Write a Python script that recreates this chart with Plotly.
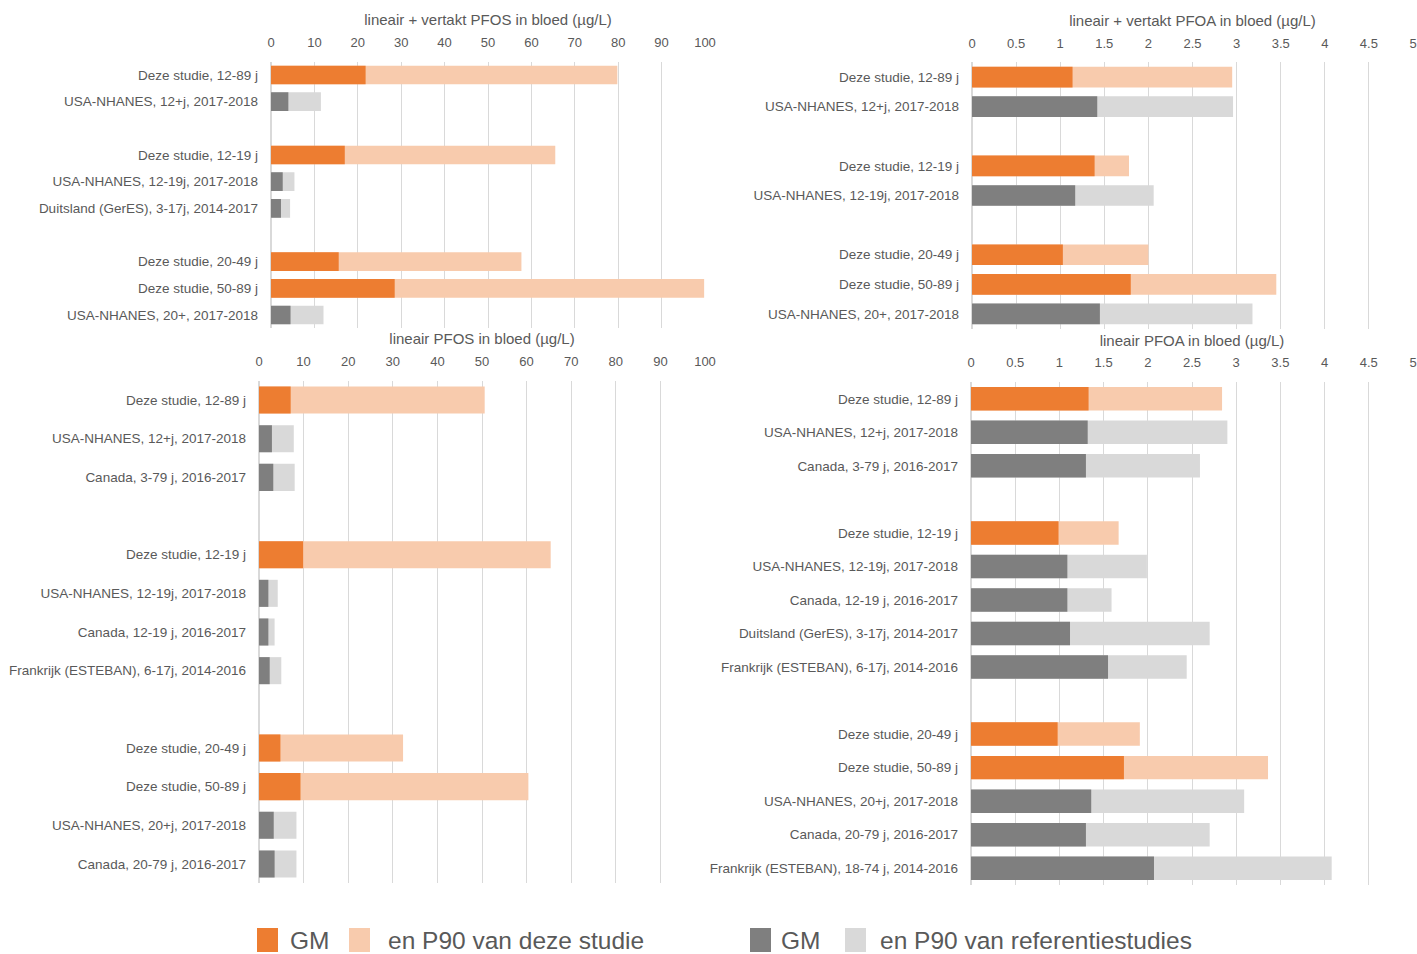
import plotly.graph_objects as go

# ---------------- data ----------------
# Panel 1: lineair + vertakt PFOS
labels_pfos_tot = ["Deze studie, 12-89 j", "USA-NHANES, 12+j, 2017-2018",
                   "Deze studie, 12-19 j", "USA-NHANES, 12-19j, 2017-2018",
                   "Duitsland (GerES), 3-17j, 2014-2017",
                   "Deze studie, 20-49 j", "Deze studie, 50-89 j", "USA-NHANES, 20+, 2017-2018"]
groups_pfos_tot = [2, 3, 3]
gm_pfos_tot = [21.8, 4.0, 17.0, 2.7, 2.3, 15.6, 28.5, 4.5]
p90_pfos_tot = [79.8, 11.5, 65.5, 5.4, 4.4, 57.7, 99.8, 12.1]

# Panel 2: lineair + vertakt PFOA
labels_pfoa_tot = ["Deze studie, 12-89 j", "USA-NHANES, 12+j, 2017-2018",
                   "Deze studie, 12-19 j", "USA-NHANES, 12-19j, 2017-2018",
                   "Deze studie, 20-49 j", "Deze studie, 50-89 j", "USA-NHANES, 20+, 2017-2018"]
groups_pfoa_tot = [2, 2, 3]
gm_pfoa_tot = [1.14, 1.42, 1.39, 1.17, 1.03, 1.80, 1.45]
p90_pfoa_tot = [2.95, 2.96, 1.78, 2.06, 2.00, 3.45, 3.18]

# Panel 3: lineair PFOS
labels_pfos_lin = ["Deze studie, 12-89 j", "USA-NHANES, 12+j, 2017-2018", "Canada, 3-79 j, 2016-2017",
                   "Deze studie, 12-19 j", "USA-NHANES, 12-19j, 2017-2018", "Canada, 12-19 j, 2016-2017",
                   "Frankrijk (ESTEBAN), 6-17j, 2014-2016",
                   "Deze studie, 20-49 j", "Deze studie, 50-89 j", "USA-NHANES, 20+j, 2017-2018",
                   "Canada, 20-79 j, 2016-2017"]
groups_pfos_lin = [3, 4, 4]
gm_pfos_lin = [7.1, 2.9, 3.2, 9.9, 2.1, 2.1, 2.4, 4.8, 9.3, 3.3, 3.5]
p90_pfos_lin = [50.6, 7.8, 8.0, 65.4, 4.2, 3.5, 5.0, 32.3, 60.4, 8.4, 8.4]

# Panel 4: lineair PFOA
labels_pfoa_lin = ["Deze studie, 12-89 j", "USA-NHANES, 12+j, 2017-2018", "Canada, 3-79 j, 2016-2017",
                   "Deze studie, 12-19 j", "USA-NHANES, 12-19j, 2017-2018", "Canada, 12-19 j, 2016-2017",
                   "Duitsland (GerES), 3-17j, 2014-2017", "Frankrijk (ESTEBAN), 6-17j, 2014-2016",
                   "Deze studie, 20-49 j", "Deze studie, 50-89 j", "USA-NHANES, 20+j, 2017-2018",
                   "Canada, 20-79 j, 2016-2017", "Frankrijk (ESTEBAN), 18-74 j, 2014-2016"]
groups_pfoa_lin = [3, 5, 5]
gm_pfoa_lin = [1.33, 1.32, 1.30, 0.99, 1.09, 1.09, 1.12, 1.55, 0.98, 1.73, 1.36, 1.30, 2.07]
p90_pfoa_lin = [2.84, 2.90, 2.59, 1.67, 1.99, 1.59, 2.70, 2.44, 1.91, 3.36, 3.09, 2.70, 4.08]

titles = ["lineair + vertakt PFOS in bloed (µg/L)", "lineair + vertakt PFOA in bloed (µg/L)",
          "lineair PFOS in bloed (µg/L)", "lineair PFOA in bloed (µg/L)"]
legend_labels = ["GM", "en P90 van deze studie", "GM", "en P90 van referentiestudies"]

# ---------------- style ----------------
C_GM_STUDY = "#ED7D31"
C_P90_STUDY = "#F8CBAD"
C_GM_REF = "#7F7F7F"
C_P90_REF = "#D9D9D9"
FONT = "Liberation Sans Narrow, Arial Narrow, Liberation Sans, sans-serif"
TXT = "#595959"
W, H = 1417, 954


def positions(groups):
    pos, p = [], 0
    for g in groups:
        for _ in range(g):
            pos.append(p)
            p += 1
        p += 1
    return pos, p - 1  # positions, number of slots


panels = [
    (labels_pfos_tot, groups_pfos_tot, gm_pfos_tot, p90_pfos_tot, [0, 100], 10, (271, 705), (61.7, 328.3)),
    (labels_pfoa_tot, groups_pfoa_tot, gm_pfoa_tot, p90_pfoa_tot, [0, 5], 0.5, (972, 1413), (62.2, 328.8)),
    (labels_pfos_lin, groups_pfos_lin, gm_pfos_lin, p90_pfos_lin, [0, 100], 10, (259, 705), (380.7, 883.3)),
    (labels_pfoa_lin, groups_pfoa_lin, gm_pfoa_lin, p90_pfoa_lin, [0, 5], 0.5, (971, 1413), (382, 885)),
]

fig = go.Figure()
layout = {}
for k, (labels, groups, gm, p90, xr, dt, (x0, x1), (y0, y1)) in enumerate(panels):
    idx = "" if k == 0 else str(k + 1)
    xa, ya = "x" + idx, "y" + idx
    pos, nslots = positions(groups)
    study = [lab.startswith("Deze studie") for lab in labels]
    fig.add_trace(go.Bar(
        x=p90, y=pos, orientation="h", width=0.7, xaxis=xa, yaxis=ya,
        marker=dict(color=[C_P90_STUDY if s else C_P90_REF for s in study], line_width=0),
        showlegend=False, hoverinfo="x+text", text=labels, textposition="none"))
    fig.add_trace(go.Bar(
        x=gm, y=pos, orientation="h", width=0.7, xaxis=xa, yaxis=ya,
        marker=dict(color=[C_GM_STUDY if s else C_GM_REF for s in study], line_width=0),
        showlegend=False, hoverinfo="x+text", text=labels, textposition="none"))
    layout["xaxis" + idx] = dict(
        domain=[x0 / W, x1 / W], range=xr, dtick=dt, side="top", anchor=ya, automargin=False,
        showgrid=True, gridcolor="#D9D9D9", gridwidth=1, zeroline=True, zerolinecolor="#D9D9D9",
        showline=False, ticks="", ticklabelstandoff=11,
        tickfont=dict(size=13, color=TXT, family=FONT),
        title=dict(text=titles[k], font=dict(size=15, color=TXT, family=FONT), standoff=5),
        fixedrange=True)
    layout["yaxis" + idx] = dict(
        domain=[1 - y1 / H, 1 - y0 / H], range=[nslots - 0.5, -0.5], anchor=xa, automargin=False,
        tickvals=pos, ticktext=labels, showgrid=False, zeroline=False, showline=False, ticks="",
        ticklabelstandoff=12, tickfont=dict(size=13.5, color=TXT, family=FONT), fixedrange=True)

# legend drawn as shapes + annotations
legend_items = [(257, C_GM_STUDY), (349, C_P90_STUDY), (750, C_GM_REF), (845, C_P90_REF)]
text_x = [288, 386, 779, 878]
shapes, annotations = [], []
for (lx, col), tx, lab in zip(legend_items, text_x, legend_labels):
    shapes.append(dict(type="rect", xref="paper", yref="paper", x0=lx / W, x1=(lx + 21) / W,
                       y0=1 - 952 / H, y1=1 - 928 / H, fillcolor=col, line_width=0))
    annotations.append(dict(text=lab, xref="paper", yref="paper", x=tx / W, y=1 - 940 / H,
                            xanchor="left", yanchor="middle", showarrow=False,
                            font=dict(size=24.5, color=TXT, family=FONT)))

fig.update_layout(
    width=W, height=H, margin=dict(l=0, r=0, t=0, b=0, autoexpand=False),
    paper_bgcolor="white", plot_bgcolor="white", barmode="overlay", bargap=0.3,
    shapes=shapes, annotations=annotations, font=dict(family=FONT, color=TXT),
    **layout)

fig.write_html("out.html")
